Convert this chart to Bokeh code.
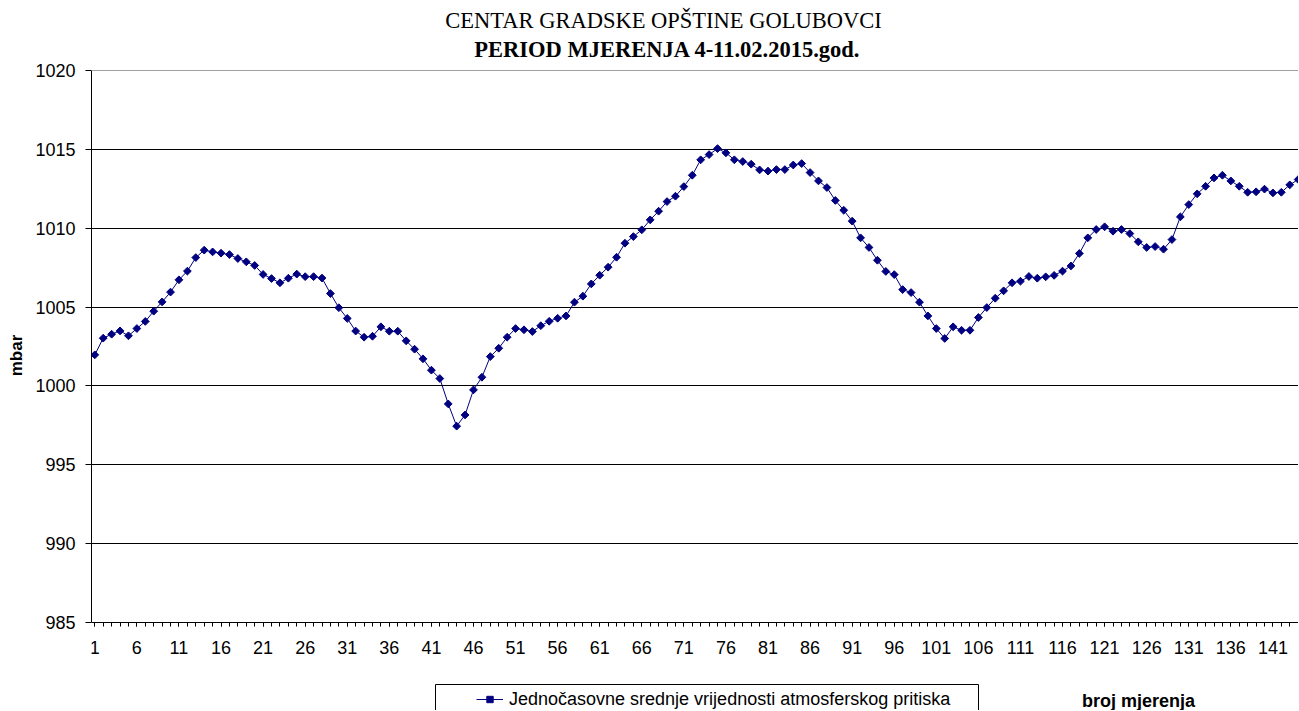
import math
from bokeh.plotting import figure
from bokeh.models import FixedTicker, Span, Legend, LegendItem, Range1d, Label
from bokeh.embed import file_html
from bokeh.resources import INLINE

# ---------------- data ----------------
measurement = list(range(1, 145))
pressure_mbar = [
    1001.97, 1003.03, 1003.28, 1003.49, 1003.18, 1003.64, 1004.09, 1004.74, 1005.33, 1005.95,
    1006.73, 1007.28, 1008.14, 1008.61, 1008.50, 1008.42, 1008.33, 1008.08, 1007.87, 1007.64,
    1007.07, 1006.81, 1006.54, 1006.83, 1007.09, 1006.93, 1006.93, 1006.84, 1005.86, 1004.96,
    1004.28, 1003.48, 1003.09, 1003.15, 1003.75, 1003.47, 1003.47, 1002.86, 1002.33, 1001.72,
    1001.00, 1000.47, 998.86, 997.45, 998.16, 999.75, 1000.55, 1001.86, 1002.39, 1003.09,
    1003.64, 1003.56, 1003.45, 1003.82, 1004.10, 1004.29, 1004.44, 1005.31, 1005.69, 1006.47,
    1007.02, 1007.53, 1008.16, 1009.05, 1009.47, 1009.90, 1010.53, 1011.08, 1011.69, 1012.03,
    1012.64, 1013.36, 1014.34, 1014.67, 1015.05, 1014.78, 1014.34, 1014.23, 1014.06, 1013.70,
    1013.62, 1013.72, 1013.72, 1014.01, 1014.10, 1013.53, 1013.00, 1012.58, 1011.76, 1011.14,
    1010.45, 1009.39, 1008.78, 1007.97, 1007.26, 1007.06, 1006.11, 1005.92, 1005.31, 1004.44,
    1003.64, 1003.01, 1003.75, 1003.53, 1003.53, 1004.34, 1004.97, 1005.56, 1006.03, 1006.54,
    1006.64, 1006.94, 1006.83, 1006.92, 1007.01, 1007.28, 1007.61, 1008.40, 1009.39, 1009.92,
    1010.09, 1009.81, 1009.92, 1009.66, 1009.14, 1008.78, 1008.84, 1008.67, 1009.28, 1010.72,
    1011.50, 1012.18, 1012.66, 1013.19, 1013.36, 1013.00, 1012.66, 1012.28, 1012.31, 1012.48,
    1012.24, 1012.28, 1012.75, 1013.09,
]
x_tick_labels = list(range(1, 145, 5))
y_ticks = [985, 990, 995, 1000, 1005, 1010, 1015, 1020]
title_lines = ["CENTAR GRADSKE OPŠTINE GOLUBOVCI", "PERIOD MJERENJA 4-11.02.2015.god."]
series_name = "Jednočasovne srednje vrijednosti atmosferskog pritiska"
x_title = "broj mjerenja"
y_title = "mbar"

NAVY = "#000080"
SANS = "Liberation Sans"
SERIF = "Liberation Serif"

# frame covers the full height; the value axis spans 985..1020, the rest holds titles/legend
p = figure(width=1298, height=710, output_backend="svg", toolbar_location=None,
           x_range=Range1d(0.608, 144.04), y_range=Range1d(979.42, 1024.44),
           min_border_left=91, min_border_right=0, min_border_top=0, min_border_bottom=0)
p.title.visible = False
p.outline_line_color = None
p.background_fill_color = "white"
p.border_fill_color = "white"

# x axis, drawn at 985
p.xaxis.fixed_location = y_ticks[0]
p.xaxis.ticker = FixedTicker(ticks=x_tick_labels, minor_ticks=measurement)
p.xaxis.major_tick_in = 0
p.xaxis.major_tick_out = 4
p.xaxis.minor_tick_in = 0
p.xaxis.minor_tick_out = 4
p.xaxis.major_tick_line_color = "black"
p.xaxis.minor_tick_line_color = "black"
p.xaxis.axis_line_color = "black"
p.xaxis.major_label_standoff = 15
p.xaxis.major_label_text_font = SANS
p.xaxis.major_label_text_font_size = "18px"
p.xaxis.major_label_text_color = "black"

# y axis
p.yaxis.bounds = (y_ticks[0], y_ticks[-1])
p.yaxis.ticker = FixedTicker(ticks=y_ticks)
p.yaxis.major_tick_in = 0
p.yaxis.major_tick_out = 6
p.yaxis.minor_tick_line_color = None
p.yaxis.major_tick_line_color = "black"
p.yaxis.axis_line_color = "black"
p.yaxis.major_label_standoff = 10
p.yaxis.major_label_text_font = SANS
p.yaxis.major_label_text_font_size = "18px"
p.yaxis.major_label_text_color = "black"
p.yaxis.axis_label = y_title
p.yaxis.axis_label_text_font = SANS
p.yaxis.axis_label_text_font_style = "bold"
p.yaxis.axis_label_text_font_size = "17px"
p.yaxis.axis_label_text_color = "black"
p.yaxis.axis_label_standoff = 6

# grid
p.xgrid.visible = False
p.ygrid.ticker = FixedTicker(ticks=y_ticks[1:-1])
p.ygrid.grid_line_color = "black"
p.ygrid.grid_line_alpha = 1.0
p.ygrid.grid_line_width = 1
p.add_layout(Span(location=y_ticks[-1], dimension="width", line_color="#a0a0a0", line_width=1))

# series
r_line = p.line(measurement, pressure_mbar, line_color=NAVY, line_width=1)
r_pts = p.scatter(measurement, pressure_mbar, marker="square", angle=math.pi / 4, size=5.5,
                  fill_color=NAVY, line_color=NAVY, line_width=1)

# two-line title
p.add_layout(Label(x=572, y=689.7, x_units="screen", y_units="screen", text=title_lines[0],
                   text_font=SERIF, text_font_size="22.5px", text_align="center",
                   text_baseline="alphabetic", text_color="black"))
p.add_layout(Label(x=576, y=660.7, x_units="screen", y_units="screen", text=title_lines[1],
                   text_font=SERIF, text_font_size="22.5px", text_font_style="bold",
                   text_align="center", text_baseline="alphabetic", text_color="black"))

# legend frame box
p.add_layout(Label(x=344, y=26, x_units="screen", y_units="screen", text=" ",
                   text_font=SANS, text_font_size="18px", text_align="left", text_baseline="top",
                   border_line_color="black", border_line_width=1,
                   background_fill_color="white", background_fill_alpha=0.0,
                   padding=dict(left=2, right=536, top=2, bottom=40)))

legend = Legend(items=[LegendItem(label=series_name, renderers=[r_line, r_pts])],
                location=(385, 0.5), padding=0, margin=0, spacing=0,
                glyph_width=27, glyph_height=16, label_height=20, label_standoff=6,
                label_text_font=SANS, label_text_font_size="18px", label_text_color="black",
                border_line_color=None, background_fill_alpha=0.0)
p.add_layout(legend)

# x axis title at the bottom right
p.add_layout(Label(x=1047, y=10, x_units="screen", y_units="screen", text=x_title,
                   text_font=SANS, text_font_size="18px", text_font_style="bold",
                   text_align="center", text_baseline="middle", text_color="black"))

open("out.html", "w").write(file_html(p, INLINE))
